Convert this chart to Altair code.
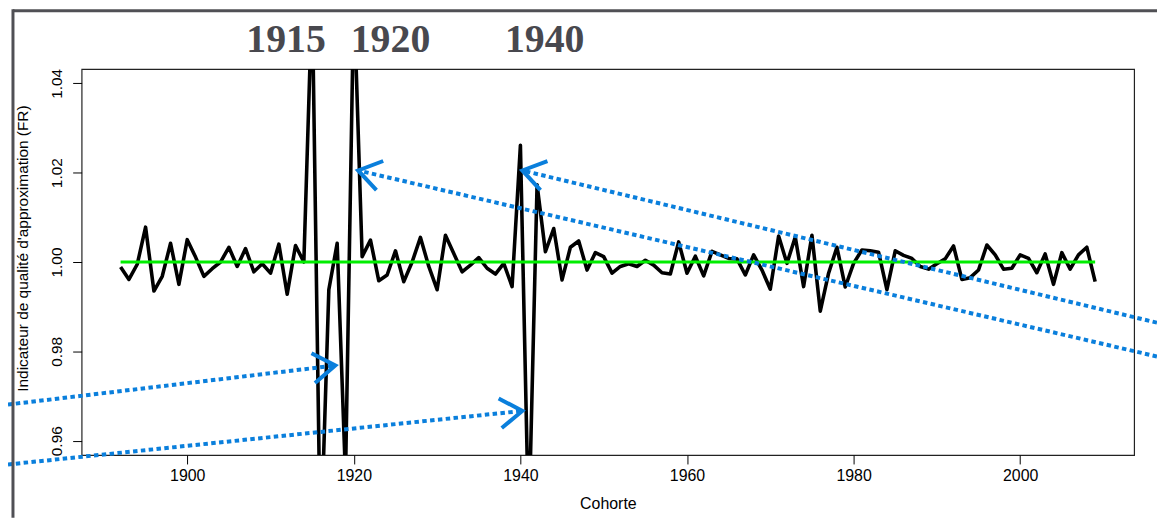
import math
import altair as alt
import pandas as pd

# ---------------- data ----------------
years = list(range(1892, 2010))
fr_values = [
    0.9989, 0.9961, 0.9995, 1.0078, 0.9935, 0.9968, 1.0042, 0.9950, 1.0050, 1.0011,  # 1892-1901
    0.9968, 0.9985, 1.0000, 1.0033, 0.9990, 1.0030, 0.9978, 0.9996, 0.9975, 1.0040,  # 1902-1911
    0.9928, 1.0037, 1.0000, 1.0600, 0.9345, 0.9938, 1.0042, 0.9520, 1.0600, 1.0012,  # 1912-1921
    1.0049, 0.9958, 0.9971, 1.0025, 0.9956, 1.0000, 1.0055, 0.9990, 0.9938, 1.0060,  # 1922-1931
    1.0019, 0.9978, 0.9993, 1.0010, 0.9986, 0.9973, 0.9997, 0.9945, 1.0261, 0.9400,  # 1932-1941
    1.0173, 1.0023, 1.0075, 0.9960, 1.0033, 1.0047, 0.9982, 1.0021, 1.0012, 0.9975,  # 1942-1951
    0.9990, 0.9996, 0.9990, 1.0004, 0.9993, 0.9976, 0.9973, 1.0045, 0.9975, 1.0013,  # 1952-1961
    0.9969, 1.0024, 1.0016, 1.0008, 1.0007, 0.9971, 1.0016, 0.9982, 0.9939, 1.0058,  # 1962-1971
    0.9997, 1.0056, 0.9945, 1.0060, 0.9890, 0.9975, 1.0033, 0.9944, 0.9997, 1.0027,  # 1972-1981
    1.0025, 1.0022, 0.9938, 1.0025, 1.0015, 1.0008, 0.9990, 0.9984, 0.9996, 1.0007,  # 1982-1991
    1.0036, 0.9961, 0.9965, 0.9982, 1.0038, 1.0016, 0.9984, 0.9986, 1.0016, 1.0008,  # 1992-2001
    0.9976, 1.0018, 0.9950, 1.0021, 0.9984, 1.0016, 1.0033, 0.9956,                  # 2002-2009
]
reference_level = 1.0
x_ticks = [1900, 1920, 1940, 1960, 1980, 2000]
y_ticks = [0.96, 0.98, 1.00, 1.02, 1.04]
top_labels = ["1915", "1920", "1940"]
x_title = "Cohorte"
y_title = "Indicateur de qualité d'approximation (FR)"

# annotation arrows (data coordinates: tail -> head)
arrow_tail_year = [1878.48, 1878.48, 2016.42, 2016.42]
arrow_tail_val = [0.96809, 0.95468, 0.97885, 0.98642]
arrow_head_year = [1917.78, 1940.23, 1920.52, 1940.23]
arrow_head_val = [0.97684, 0.96667, 1.02049, 1.02049]

# ---------------- layout ----------------
W, H = 1058, 388
XDOM = [1887.32, 2013.68]
YDOM = [0.9568, 1.0432]
BLUE = "#0a7fdc"
FRAME = "#505055"
FONT = "Liberation Sans"
FS = 16

xs = alt.Scale(domain=XDOM, nice=False, zero=False)
ys = alt.Scale(domain=YDOM, nice=False, zero=False)

ax_x = alt.Axis(
    values=x_ticks, format="d", tickSize=9, tickColor="black", domain=False, grid=False,
    labelPadding=4, labelFont=FONT, labelFontSize=FS, labelColor="black",
    labelFlush=False, labelOverlap=False,
    title=x_title, titleFont=FONT, titleFontSize=FS, titleFontWeight="normal",
    titleColor="black", titlePadding=12,
)
ax_y = alt.Axis(
    values=y_ticks, format=".2f", tickSize=9, tickColor="black", domain=False, grid=False,
    labelAngle=270, labelAlign="center", labelBaseline="alphabetic", labelPadding=11,
    labelFont=FONT, labelFontSize=15.5, labelColor="black",
    labelFlush=False, labelOverlap=False,
    title=y_title, titleFont=FONT, titleFontSize=15.5, titleFontWeight="normal",
    titleColor="black", titleAngle=270, titleAlign="center",
    titleBaseline="alphabetic", titleX=-54, titleY=180,
)

sx = W / (XDOM[1] - XDOM[0])
sy = H / (YDOM[1] - YDOM[0])
angles = []
for tx, ty, hx, hy in zip(arrow_tail_year, arrow_tail_val, arrow_head_year, arrow_head_val):
    dx = (hx - tx) * sx
    dy = -(hy - ty) * sy
    angles.append(math.degrees(math.atan2(dy, dx)) % 360)

df = pd.DataFrame({"Cohorte": years, "FR": fr_values})
ref_df = pd.DataFrame({"x": [years[0]], "x2": [years[-1]], "y": [reference_level]})
arr_df = pd.DataFrame({
    "tx": arrow_tail_year, "ty": arrow_tail_val,
    "hx": arrow_head_year, "hy": arrow_head_val, "ang": angles,
})
one = alt.Data(values=[{}])

line = alt.Chart(df).mark_line(
    color="black", strokeWidth=3.6, clip=True, strokeJoin="round"
).encode(
    x=alt.X("Cohorte:Q", scale=xs, axis=ax_x, title=x_title),
    y=alt.Y("FR:Q", scale=ys, axis=ax_y, title=y_title),
    order="Cohorte:Q",
)

ref = alt.Chart(ref_df).mark_rule(color="#00ee00", strokeWidth=3).encode(
    x=alt.X("x:Q", scale=xs, axis=ax_x, title=x_title), x2="x2:Q",
    y=alt.Y("y:Q", scale=ys, axis=ax_y, title=y_title),
)

arrows = alt.Chart(arr_df).mark_rule(
    color=BLUE, strokeWidth=4, strokeDash=[4.5, 3.4], strokeCap="butt"
).encode(
    x=alt.X("tx:Q", scale=xs, axis=ax_x, title=x_title), x2="hx:Q",
    y=alt.Y("ty:Q", scale=ys, axis=ax_y, title=y_title), y2="hy:Q",
)

heads = alt.Chart(arr_df).mark_point(
    shape="M-1,-0.67L0,0L-1,0.67", size=2000, filled=False, stroke=BLUE,
    strokeWidth=4, opacity=1, strokeCap="butt", strokeJoin="miter",
).encode(
    x=alt.X("hx:Q", scale=xs, axis=ax_x, title=x_title),
    y=alt.Y("hy:Q", scale=ys, axis=ax_y, title=y_title),
    angle=alt.Angle("ang:Q", scale=None),
)

frame_top = alt.Chart(one).mark_rule(color=FRAME, strokeWidth=3).encode(
    x=alt.value(-69), x2=alt.value(1081), y=alt.value(-58.5)
)
frame_left = alt.Chart(one).mark_rule(color=FRAME, strokeWidth=3).encode(
    x=alt.value(-69), y=alt.value(-60), y2=alt.value(451)
)

label_x = [205.5, 310.5, 465.5]
texts = [
    alt.Chart(one).mark_text(
        font="Liberation Serif", fontWeight="bold", fontSize=40, color="#48484e",
        align="center", baseline="alphabetic",
    ).encode(x=alt.value(lx), y=alt.value(-17), text=alt.value(t))
    for lx, t in zip(label_x, top_labels)
]

chart = alt.layer(line, ref, arrows, heads, frame_top, frame_left, *texts).properties(
    width=W, height=H,
    autosize=alt.AutoSizeParams(type="none"),
    padding={"left": 74, "top": 60, "right": 23, "bottom": 63},
    background="white",
).configure_view(stroke="#222222", strokeWidth=1.2)

chart.save("out.html", embed_options={"renderer": "svg", "actions": False})
